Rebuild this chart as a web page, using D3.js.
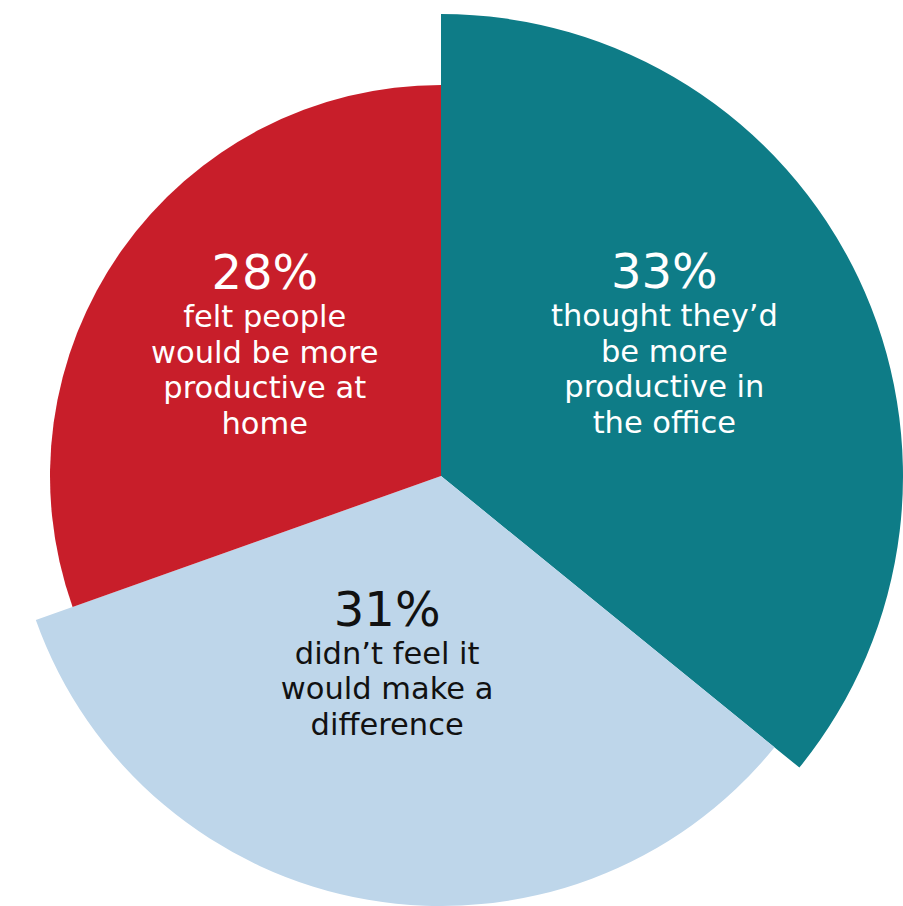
<!DOCTYPE html>
<html><head><meta charset="utf-8">
<script src="https://cdn.jsdelivr.net/npm/d3@7"></script>
<style>html,body{margin:0;padding:0;background:#fff;}svg{display:block;}</style>
</head><body>
<script>
const categories = ["office", "no difference", "home"];
const percents = [33, 31, 28];
const percentLabels = ["33%", "31%", "28%"];
const descriptions = [
  ["thought they\u2019d", "be more", "productive in", "the office"],
  ["didn\u2019t feel it", "would make a", "difference"],
  ["felt people", "would be more", "productive at", "home"]
];
const colors = ["#0E7C87", "#BED6EA", "#C81E2A"];
const textColors = ["#ffffff", "#111111", "#ffffff"];

const W = 903, H = 906;
const cx = 441, cy = 476;
const radii = [462, 430, 391];
// anchor of each label's percentage baseline (degrees clockwise from top, distance from centre)
const labelPos = [[49.9, 292], [199.8, 159], [316.7, 257]];

const svg = d3.select("body").append("svg").attr("width", W).attr("height", H);
const g = svg.append("g").attr("transform", `translate(${cx},${cy})`);

const data = categories.map((c, i) => ({c, v: percents[i], i}));
const pie = d3.pie().sort(null).value(d => d.v);
const arcs = pie(data);
const arc = d3.arc().innerRadius(0).outerRadius(d => radii[d.data.i]);

g.selectAll("path").data(arcs).join("path")
  .attr("d", arc).attr("fill", d => colors[d.data.i]);

const font = "'DejaVu Sans', sans-serif";
arcs.forEach(a => {
  const i = a.data.i;
  const ang = labelPos[i][0] * Math.PI / 180, r = labelPos[i][1];
  const x = r * Math.sin(ang), y = -r * Math.cos(ang);
  const lines = descriptions[i];
  const lh = 35.7;
  const t = g.append("text").attr("fill", textColors[i]).attr("text-anchor", "middle")
    .style("font-family", font);
  t.append("tspan").attr("x", x).attr("y", y)
    .style("font-size", "48px").text(percentLabels[i]);
  lines.forEach((l, k) => {
    t.append("tspan").attr("x", x).attr("y", y + 38 + k * lh)
      .style("font-size", "30.5px").text(l);
  });
});
</script>
</body></html>
